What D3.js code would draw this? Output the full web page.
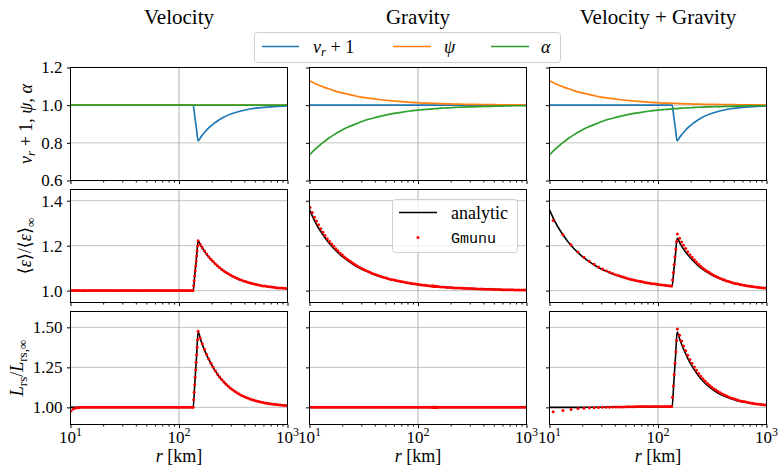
<!DOCTYPE html>
<html>
<head>
<meta charset="utf-8">
<script src="https://cdn.jsdelivr.net/npm/d3@7"></script>
<style>
  body { margin: 0; background: #fff; }
  svg text { font-family: "Liberation Serif", "DejaVu Serif", "Tinos", "Noto Serif", "FreeSerif", "Nimbus Roman", "Times", serif; fill: #000; }
</style>
</head>
<body>
<div id="chart"></div>
<script>
// ---- data ----------------------------------------------------------------

var colTitles = ["Velocity", "Gravity", "Velocity + Gravity"];

// r grid (km) for the analytic curves
var rLine = [10, 11, 12, 13.5, 15, 17, 20, 23, 26, 30,
  35, 40, 50, 60, 70, 85, 100, 115, 135, 140,
  145, 150, 160, 175, 190, 210, 235, 260, 300, 350,
  400, 470, 550, 650, 800, 1000];

var flatLine = [1, 1, 1, 1, 1, 1, 1, 1, 1, 1,
  1, 1, 1, 1, 1, 1, 1, 1, 1, 1,
  1, 1, 1, 1, 1, 1, 1, 1, 1, 1,
  1, 1, 1, 1, 1, 1];

// top row: v_r + 1, psi, alpha
var vrLine = [1, 1, 1, 1, 1, 1, 1, 1, 1, 1,
  1, 1, 1, 1, 1, 1, 1, 1, 1, 0.937,
  0.873, 0.81, 0.833, 0.860, 0.882, 0.903, 0.923, 0.937, 0.953, 0.965,
  0.973, 0.981, 0.986, 0.990, 0.993, 0.996];
var psiLine = [1.130, 1.118, 1.108, 1.096, 1.087, 1.076, 1.065, 1.057, 1.050, 1.043,
  1.037, 1.033, 1.026, 1.022, 1.019, 1.015, 1.013, 1.011, 1.010, 1.009,
  1.009, 1.009, 1.008, 1.007, 1.007, 1.006, 1.006, 1.005, 1.004, 1.004,
  1.003, 1.003, 1.002, 1.002, 1.002, 1.001];
var alphaLine = [0.736, 0.760, 0.780, 0.804, 0.824, 0.845, 0.868, 0.885, 0.898, 0.912,
  0.925, 0.934, 0.947, 0.956, 0.962, 0.969, 0.974, 0.977, 0.980, 0.981,
  0.982, 0.982, 0.984, 0.985, 0.986, 0.987, 0.989, 0.990, 0.991, 0.992,
  0.993, 0.994, 0.995, 0.996, 0.997, 0.997];

// middle row: <eps>/<eps>_inf, analytic
var epsVelLine = [1, 1, 1, 1, 1, 1, 1, 1, 1, 1,
  1, 1, 1, 1, 1, 1, 1, 1, 1, 1.073,
  1.147, 1.220, 1.197, 1.169, 1.147, 1.124, 1.103, 1.086, 1.068, 1.052,
  1.042, 1.032, 1.024, 1.018, 1.013, 1.009];
var epsGravLine = [1.359, 1.316, 1.282, 1.244, 1.214, 1.184, 1.152, 1.130, 1.113, 1.096,
  1.082, 1.071, 1.056, 1.046, 1.039, 1.032, 1.027, 1.024, 1.020, 1.019,
  1.018, 1.018, 1.017, 1.015, 1.014, 1.013, 1.011, 1.010, 1.009, 1.008,
  1.007, 1.006, 1.005, 1.004, 1.003, 1.003];
var epsBothLine = [1.359, 1.316, 1.282, 1.244, 1.214, 1.184, 1.152, 1.130, 1.113, 1.096,
  1.082, 1.071, 1.056, 1.046, 1.039, 1.032, 1.027, 1.024, 1.020, 1.091,
  1.162, 1.233, 1.209, 1.179, 1.157, 1.134, 1.110, 1.094, 1.075, 1.058,
  1.047, 1.036, 1.028, 1.022, 1.015, 1.011];

// bottom row: L_rs/L_rs,inf, analytic
var lumVelLine = [1, 1, 1, 1, 1, 1, 1, 1, 1, 1,
  1, 1, 1, 1, 1, 1, 1, 1, 1, 1.157,
  1.313, 1.470, 1.413, 1.345, 1.293, 1.240, 1.191, 1.156, 1.118, 1.086,
  1.066, 1.048, 1.035, 1.025, 1.017, 1.011];
var lumGravLine = [1, 1, 1, 1, 1, 1, 1, 1, 1, 1,
  1, 1, 1, 1, 1, 1, 1, 1, 1, 1,
  1, 1, 1, 1, 1, 1, 1, 1, 1, 1,
  1, 1, 1, 1, 1, 1];
var lumBothLine = [1.000, 1.000, 1.000, 1.000, 1.000, 1.000, 1.000, 1.001, 1.001, 1.001,
  1.002, 1.002, 1.002, 1.003, 1.003, 1.003, 1.004, 1.004, 1.004, 1.160,
  1.315, 1.470, 1.418, 1.352, 1.300, 1.248, 1.199, 1.163, 1.125, 1.093,
  1.072, 1.054, 1.040, 1.030, 1.021, 1.015];

// Gmunu points, fine grid (velocity and gravity runs)
var rFine = [
  10.1, 10.6, 11.1, 11.6, 12.1, 12.7, 13.3, 13.9, 14.6, 15.3,
  16.0, 16.7, 17.5, 18.3, 19.2, 20.1, 21.0, 22.0, 23.0, 24.1,
  25.2, 26.4, 27.6, 28.9, 30.3, 31.7, 33.2, 34.8, 36.4, 38.1,
  39.9, 41.8, 43.7, 45.8, 47.9, 50.2, 52.5, 55.0, 57.6, 60.3,
  63.1, 66.1, 69.2, 72.4, 75.8, 79.4, 83.1, 87.0, 91.1, 95.4,
  99.9, 104.6, 109.5, 114.6, 120.0, 125.6, 131.5, 135.0, 136.5, 138,
  139.5, 141, 142.5, 144, 145.5, 147, 148.5, 150, 157, 164,
  172, 180, 188, 197, 206, 216, 226, 237, 248, 260,
  272, 285, 298, 312, 327, 342, 358, 375, 393, 411,
  430, 451, 472, 494, 517, 541, 567, 593, 621, 650,
  681, 713, 746, 781, 818, 856, 897, 939, 983
];
var epsVelDots = [
  1.000, 1.000, 1.000, 1.000, 1.000, 1.000, 1.000, 1.000, 1.000, 1.000,
  1.000, 1.000, 1.000, 1.000, 1.000, 1.000, 1.000, 1.000, 1.000, 1.000,
  1.000, 1.000, 1.000, 1.000, 1.000, 1.000, 1.000, 1.000, 1.000, 1.000,
  1.000, 1.000, 1.000, 1.000, 1.000, 1.000, 1.000, 1.000, 1.000, 1.000,
  1.000, 1.000, 1.000, 1.000, 1.000, 1.000, 1.000, 1.000, 1.000, 1.000,
  1.000, 1.000, 1.000, 1.000, 1.000, 1.000, 1.000, 1.000, 1.022, 1.044,
  1.066, 1.088, 1.110, 1.132, 1.154, 1.176, 1.198, 1.222, 1.205, 1.191,
  1.176, 1.163, 1.151, 1.140, 1.129, 1.119, 1.111, 1.102, 1.094, 1.087,
  1.081, 1.075, 1.069, 1.064, 1.059, 1.055, 1.051, 1.047, 1.043, 1.040,
  1.037, 1.034, 1.032, 1.029, 1.027, 1.025, 1.023, 1.021, 1.020, 1.018,
  1.017, 1.016, 1.015, 1.013, 1.012, 1.011, 1.011, 1.010, 1.009
];
var lumVelDots = [
  0.978, 0.990, 0.996, 0.998, 0.999, 1.000, 1.000, 1.000, 1.000, 1.000,
  1.000, 1.000, 1.000, 1.000, 1.000, 1.000, 1.000, 1.000, 1.000, 1.000,
  1.000, 1.000, 1.000, 1.000, 1.000, 1.000, 1.000, 1.000, 1.000, 1.000,
  1.000, 1.000, 1.000, 1.000, 1.000, 1.000, 1.000, 1.000, 1.000, 1.000,
  1.000, 1.000, 1.000, 1.000, 1.000, 1.000, 1.000, 1.000, 1.000, 1.000,
  1.000, 1.000, 1.000, 1.000, 1.000, 1.000, 1.000, 1.000, 1.047, 1.094,
  1.141, 1.188, 1.235, 1.282, 1.329, 1.376, 1.423, 1.475, 1.434, 1.397,
  1.361, 1.330, 1.302, 1.275, 1.252, 1.229, 1.209, 1.190, 1.174, 1.158,
  1.144, 1.132, 1.120, 1.110, 1.100, 1.091, 1.083, 1.076, 1.069, 1.063,
  1.058, 1.053, 1.048, 1.044, 1.040, 1.037, 1.033, 1.030, 1.028, 1.025,
  1.023, 1.021, 1.019, 1.018, 1.016, 1.015, 1.013, 1.012, 1.011
];
var epsGravDots = [
  1.370, 1.348, 1.327, 1.310, 1.293, 1.275, 1.260, 1.245, 1.231, 1.218,
  1.207, 1.197, 1.186, 1.177, 1.166, 1.158, 1.150, 1.142, 1.135, 1.128,
  1.122, 1.115, 1.110, 1.104, 1.098, 1.094, 1.089, 1.085, 1.080, 1.076,
  1.073, 1.069, 1.066, 1.063, 1.059, 1.057, 1.054, 1.051, 1.049, 1.047,
  1.045, 1.043, 1.041, 1.039, 1.037, 1.035, 1.034, 1.032, 1.030, 1.029,
  1.028, 1.026, 1.025, 1.024, 1.023, 1.022, 1.021, 1.020, 1.020, 1.020,
  1.019, 1.019, 1.019, 1.019, 1.018, 1.018, 1.018, 1.018, 1.017, 1.016,
  1.016, 1.015, 1.014, 1.014, 1.013, 1.012, 1.012, 1.011, 1.011, 1.010,
  1.010, 1.009, 1.009, 1.009, 1.008, 1.008, 1.007, 1.007, 1.007, 1.006,
  1.006, 1.006, 1.006, 1.005, 1.005, 1.005, 1.005, 1.004, 1.004, 1.004,
  1.004, 1.004, 1.004, 1.003, 1.003, 1.003, 1.003, 1.003, 1.003
];
var lumGravDots = [
  1.000, 1.000, 1.000, 1.000, 1.000, 1.000, 1.000, 1.000, 1.000, 1.000,
  1.000, 1.000, 1.000, 1.000, 1.000, 1.000, 1.000, 1.000, 1.000, 1.000,
  1.000, 1.000, 1.000, 1.000, 1.000, 1.000, 1.000, 1.000, 1.000, 1.000,
  1.000, 1.000, 1.000, 1.000, 1.000, 1.000, 1.000, 1.000, 1.000, 1.000,
  1.000, 1.000, 1.000, 1.000, 1.000, 1.000, 1.000, 1.000, 1.000, 1.000,
  1.000, 1.000, 1.000, 1.000, 1.000, 1.000, 1.000, 1.000, 1.000, 1.000,
  1.000, 1.000, 1.000, 1.000, 1.000, 1.000, 1.000, 1.000, 1.000, 1.000,
  1.000, 1.000, 1.000, 1.000, 1.000, 1.000, 1.000, 1.000, 1.000, 1.000,
  1.000, 1.000, 1.000, 1.000, 1.000, 1.000, 1.000, 1.000, 1.000, 1.000,
  1.000, 1.000, 1.000, 1.000, 1.000, 1.000, 1.000, 1.000, 1.000, 1.000,
  1.000, 1.000, 1.000, 1.000, 1.000, 1.000, 1.000, 1.000, 1.000
];

// Gmunu points, coarse grid (velocity + gravity run)
var rCoarse = [
  10.8, 13.3, 15.8, 18.3, 20.8, 23.3, 25.8, 28.3, 30.8, 33.3,
  35.8, 38.3, 40.8, 43.3, 45.8, 48.3, 50.8, 53.3, 55.8, 58.3,
  61, 64, 67, 70, 73, 76.5, 80, 84, 88, 92,
  96, 100.5, 105, 110, 115, 120, 125.5, 131, 133.5, 136,
  138.5, 141, 143.5, 146, 148.5, 151, 158, 165, 172, 180,
  188, 197, 206, 216, 226, 237, 248, 260, 272, 285,
  298, 312, 327, 342, 358, 375, 393, 411, 430, 451,
  472, 494, 517, 541, 567, 593, 621, 650, 681, 713,
  746, 781, 818, 856, 897, 939, 983
];
var epsBothDots = [
  1.312, 1.249, 1.204, 1.172, 1.148, 1.131, 1.117, 1.105, 1.096, 1.088,
  1.082, 1.076, 1.071, 1.067, 1.063, 1.060, 1.056, 1.053, 1.051, 1.048,
  1.046, 1.044, 1.042, 1.040, 1.038, 1.036, 1.034, 1.033, 1.031, 1.030,
  1.029, 1.027, 1.026, 1.025, 1.024, 1.023, 1.022, 1.021, 1.020, 1.047,
  1.081, 1.116, 1.150, 1.184, 1.218, 1.252, 1.233, 1.216, 1.202, 1.187,
  1.173, 1.160, 1.148, 1.137, 1.127, 1.117, 1.108, 1.100, 1.093, 1.086,
  1.080, 1.074, 1.068, 1.063, 1.059, 1.054, 1.050, 1.047, 1.043, 1.040,
  1.037, 1.034, 1.032, 1.030, 1.027, 1.026, 1.024, 1.022, 1.020, 1.019,
  1.018, 1.016, 1.015, 1.014, 1.013, 1.012, 1.011
];
var lumBothDots = [
  0.973, 0.981, 0.987, 0.993, 0.995, 0.997, 0.998, 0.999, 1.000, 1.001,
  1.001, 1.002, 1.002, 1.003, 1.003, 1.003, 1.004, 1.004, 1.004, 1.004,
  1.004, 1.005, 1.005, 1.005, 1.005, 1.005, 1.005, 1.006, 1.006, 1.006,
  1.006, 1.006, 1.006, 1.006, 1.006, 1.006, 1.006, 1.006, 1.006, 1.063,
  1.134, 1.205, 1.276, 1.347, 1.418, 1.489, 1.450, 1.415, 1.384, 1.353,
  1.326, 1.299, 1.275, 1.252, 1.232, 1.212, 1.195, 1.179, 1.165, 1.151,
  1.139, 1.128, 1.117, 1.108, 1.099, 1.091, 1.083, 1.077, 1.071, 1.065,
  1.059, 1.055, 1.050, 1.046, 1.042, 1.039, 1.036, 1.033, 1.030, 1.028,
  1.025, 1.023, 1.021, 1.020, 1.018, 1.017, 1.015
];

// ticks
var xMajor = [10, 100, 1000];
var xMinor = [20, 30, 40, 50, 60, 70, 80, 90, 200, 300, 400, 500, 600, 700, 800, 900];
var yTicks = [[0.6, 0.8, 1.0, 1.2], [1.0, 1.2, 1.4], [1.0, 1.25, 1.5]];
var yDomains = [[0.6, 1.2], [0.947, 1.45], [0.893, 1.599]];

// ---- layout --------------------------------------------------------------

var svgWidth = 781;
var svgHeight = 471;
var colLeft = [70.5, 309.5, 549.5];
var colWidth = 217;
var rowTop = [67.5, 189.5, 311.5];
var rowHeight = 113;
var serif = "'Liberation Serif', 'DejaVu Serif', 'Tinos', 'Noto Serif', 'FreeSerif', 'Nimbus Roman', 'Times', serif";
var mono = "'Liberation Mono', 'DejaVu Sans Mono', monospace";
var yFormats = [d3.format(".1f"), d3.format(".1f"), d3.format(".2f")];

var colors = { vr: "#1f77b4", psi: "#ff7f0e", alpha: "#2ca02c" };

// which arrays go into which panel
var topSeries = [
  [vrLine, flatLine, flatLine],
  [flatLine, psiLine, alphaLine],
  [vrLine, psiLine, alphaLine]
];
var analytic = [
  [epsVelLine, epsGravLine, epsBothLine],
  [lumVelLine, lumGravLine, lumBothLine]
];
var gmunu = [
  [[rFine, epsVelDots], [rFine, epsGravDots], [rCoarse, epsBothDots]],
  [[rFine, lumVelDots], [rFine, lumGravDots], [rCoarse, lumBothDots]]
];

var svg = d3.select("#chart")
  .append("svg")
  .attr("width", svgWidth)
  .attr("height", svgHeight)
  .style("font-family", serif);

var defs = svg.append("defs");

for (var row = 0; row < 3; row++) {
  for (var col = 0; col < 3; col++) {
    drawPanel(row, col);
  }
}

function drawPanel(row, col) {
  var left = colLeft[col];
  var top = rowTop[row];
  var bottom = top + rowHeight;

  var xScale = d3.scaleLog().domain([10, 1000]).range([left, left + colWidth]);
  var yScale = d3.scaleLinear().domain(yDomains[row]).range([bottom, top]);

  var clipId = "clip-" + row + "-" + col;
  defs.append("clipPath").attr("id", clipId)
    .append("rect")
    .attr("x", left).attr("y", top)
    .attr("width", colWidth).attr("height", rowHeight);

  var g = svg.append("g");

  // grid lines
  g.selectAll(".hgrid").data(yTicks[row]).enter()
    .append("line")
    .attr("x1", left).attr("x2", left + colWidth)
    .attr("y1", d => yScale(d)).attr("y2", d => yScale(d))
    .attr("stroke", "#b0b0b0").attr("stroke-width", 1).attr("opacity", 0.75);
  g.selectAll(".vgrid").data(xMajor).enter()
    .append("line")
    .attr("x1", d => xScale(d)).attr("x2", d => xScale(d))
    .attr("y1", top).attr("y2", bottom)
    .attr("stroke", "#b0b0b0").attr("stroke-width", 1);

  var plot = g.append("g").attr("clip-path", "url(#" + clipId + ")");

  var line = d3.line()
    .x((d, i) => xScale(rLine[i]))
    .y(d => yScale(d))
    .curve(d3.curveMonotoneX);

  if (row === 0) {
    var s = topSeries[col];
    var keys = ["vr", "psi", "alpha"];
    s.forEach(function(values, k) {
      plot.append("path")
        .datum(values)
        .attr("d", line)
        .attr("fill", "none")
        .attr("stroke", colors[keys[k]])
        .attr("stroke-width", 1.7);
    });
  } else {
    plot.append("path")
      .datum(analytic[row - 1][col])
      .attr("d", line)
      .attr("fill", "none")
      .attr("stroke", "#000")
      .attr("stroke-width", 1.6);

    var rs = gmunu[row - 1][col][0];
    var vals = gmunu[row - 1][col][1];
    plot.selectAll("circle")
      .data(vals)
      .enter()
      .append("circle")
      .attr("cx", (d, i) => xScale(rs[i]))
      .attr("cy", d => yScale(d))
      .attr("r", 1.5)
      .attr("fill", "red");
  }

  // x ticks (major + minor)
  g.append("g")
    .attr("transform", `translate(0, ${bottom})`)
    .call(d3.axisBottom(xScale).tickValues(xMajor).tickSize(3.5).tickFormat(""))
    .call(a => a.select(".domain").remove());
  g.append("g")
    .attr("transform", `translate(0, ${bottom})`)
    .call(d3.axisBottom(xScale).tickValues(xMinor).tickSize(2).tickFormat(""))
    .call(a => a.select(".domain").remove());

  // y ticks
  var yAxis = d3.axisLeft(yScale)
    .tickValues(yTicks[row])
    .tickSize(3.5)
    .tickPadding(4.5)
    .tickFormat(col === 0 ? yFormats[row] : "");
  g.append("g")
    .attr("transform", `translate(${left}, 0)`)
    .call(yAxis)
    .call(a => a.select(".domain").remove())
    .attr("font-family", serif)
    .attr("font-size", 17);

  // x tick labels with exponents, bottom row only
  if (row === 2) {
    xMajor.forEach(function(v) {
      var t = g.append("text")
        .attr("x", xScale(v))
        .attr("y", bottom + 18)
        .attr("text-anchor", "middle")
        .attr("font-size", 17);
      t.append("tspan").text("10");
      t.append("tspan").attr("dy", -7).attr("font-size", 12).text(Math.round(Math.log10(v)));
    });

    var xl = g.append("text")
      .attr("x", left + colWidth / 2)
      .attr("y", 462)
      .attr("text-anchor", "middle")
      .attr("font-size", 18);
    xl.append("tspan").attr("font-style", "italic").text("r");
    xl.append("tspan").text(" [km]");
  }

  // frame
  g.append("rect")
    .attr("x", left).attr("y", top)
    .attr("width", colWidth).attr("height", rowHeight)
    .attr("fill", "none")
    .attr("stroke", "#000")
    .attr("stroke-width", 1);

  if (row === 0) {
    svg.append("text")
      .attr("x", left + colWidth / 2)
      .attr("y", 24)
      .attr("text-anchor", "middle")
      .attr("font-size", 21)
      .text(colTitles[col]);
  }
}

// ---- y labels -------------------------------------------------------------

function yLabel(xPos, row) {
  var cy = rowTop[row] + rowHeight / 2;
  return svg.append("text")
    .attr("transform", `translate(${xPos}, ${cy}) rotate(-90)`)
    .attr("text-anchor", "middle")
    .attr("font-size", 18);
}

var yl1 = yLabel(32, 0);
yl1.append("tspan").attr("font-style", "italic").text("v");
yl1.append("tspan").attr("font-style", "italic").attr("font-size", 13).attr("dy", 3).text("r");
yl1.append("tspan").attr("dy", -3).text(" + 1, ");
yl1.append("tspan").attr("font-style", "italic").text("ψ");
yl1.append("tspan").text(", ");
yl1.append("tspan").attr("font-style", "italic").text("α");

var yl2 = yLabel(31, 1);
yl2.append("tspan").text("⟨");
yl2.append("tspan").attr("font-style", "italic").text("ε");
yl2.append("tspan").text("⟩/⟨");
yl2.append("tspan").attr("font-style", "italic").text("ε");
yl2.append("tspan").text("⟩");
yl2.append("tspan").attr("font-size", 13).attr("dy", 4).text("∞");

var yl3 = yLabel(23, 2);
yl3.append("tspan").attr("font-style", "italic").text("L");
yl3.append("tspan").attr("font-size", 13).attr("dy", 4).text("rs");
yl3.append("tspan").attr("dy", -4).text("/");
yl3.append("tspan").attr("font-style", "italic").text("L");
yl3.append("tspan").attr("font-size", 13).attr("dy", 4).text("rs,∞");

// ---- legends ----------------------------------------------------------------

var topLegend = svg.append("g");
topLegend.append("rect")
  .attr("x", 254.5).attr("y", 32.5)
  .attr("width", 306).attr("height", 30)
  .attr("rx", 3)
  .attr("fill", "#fff").attr("fill-opacity", 0.8)
  .attr("stroke", "#d0d0d0");

var legendItems = [
  { key: "vr", x1: 262, x2: 299 },
  { key: "psi", x1: 393, x2: 431 },
  { key: "alpha", x1: 491, x2: 529 }
];
legendItems.forEach(function(d) {
  topLegend.append("line")
    .attr("x1", d.x1).attr("x2", d.x2)
    .attr("y1", 46.5).attr("y2", 46.5)
    .attr("stroke", colors[d.key]).attr("stroke-width", 1.7);
});
var lt1 = topLegend.append("text").attr("x", 313).attr("y", 53).attr("font-size", 18);
lt1.append("tspan").attr("font-style", "italic").text("v");
lt1.append("tspan").attr("font-style", "italic").attr("font-size", 13).attr("dy", 3).text("r");
lt1.append("tspan").attr("dy", -3).text(" + 1");
topLegend.append("text").attr("x", 444).attr("y", 53).attr("font-size", 18)
  .attr("font-style", "italic").text("ψ");
topLegend.append("text").attr("x", 541).attr("y", 53).attr("font-size", 18)
  .attr("font-style", "italic").text("α");

var dataLegend = svg.append("g");
dataLegend.append("rect")
  .attr("x", 392.5).attr("y", 199.5)
  .attr("width", 125).attr("height", 53)
  .attr("rx", 3)
  .attr("fill", "#fff").attr("fill-opacity", 0.8)
  .attr("stroke", "#d0d0d0");
dataLegend.append("line")
  .attr("x1", 399).attr("x2", 437)
  .attr("y1", 212.5).attr("y2", 212.5)
  .attr("stroke", "#000").attr("stroke-width", 1.6);
dataLegend.append("text")
  .attr("x", 451).attr("y", 218.5)
  .attr("font-size", 18)
  .text("analytic");
dataLegend.append("circle")
  .attr("cx", 418).attr("cy", 237.5)
  .attr("r", 1.5).attr("fill", "red");
dataLegend.append("text")
  .attr("x", 451).attr("y", 242.5)
  .attr("font-size", 15)
  .style("font-family", mono)
  .text("Gmunu");
</script>
</body>
</html>
